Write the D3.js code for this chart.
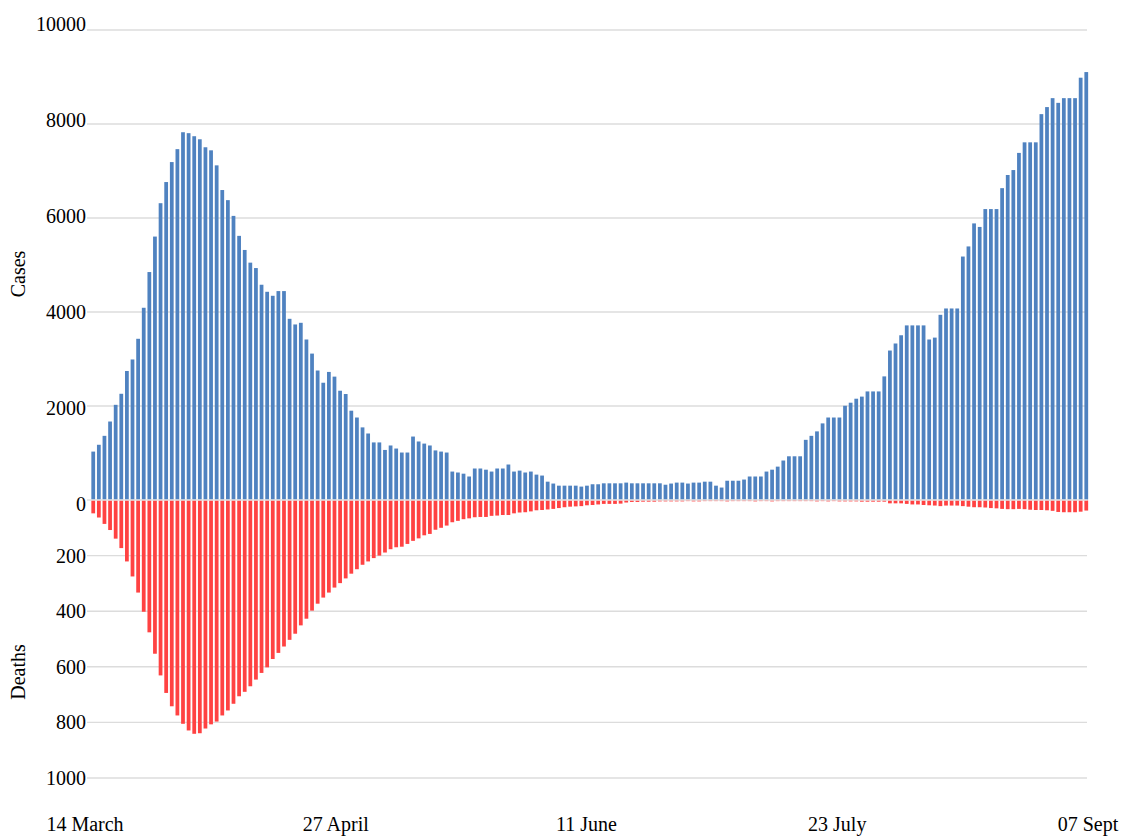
<!DOCTYPE html>
<html>
<head>
<meta charset="utf-8">
<script src="https://cdn.jsdelivr.net/npm/d3@7"></script>
<style>
  body { margin: 0; background: #fff; }
</style>
</head>
<body>
<svg id="chart" width="1126" height="837"></svg>
<script>
// daily values, 14 March -> 07 Sept
var cases = [
  1030, 1175, 1365, 1670, 2025, 2260, 2745, 2990, 3430, 4090,
  4850, 5605, 6315, 6765, 7190, 7465, 7825, 7805, 7740, 7675,
  7505, 7440, 7120, 6595, 6380, 6045, 5620, 5320, 5050, 4935,
  4580, 4430, 4345, 4445, 4445, 3855, 3735, 3770, 3415, 3115,
  2755, 2495, 2725, 2625, 2325, 2255, 1900, 1755, 1545, 1415,
  1225, 1225, 1065, 1160, 1095, 1010, 1010, 1350, 1245, 1200,
  1160, 1055, 1030, 1010, 605, 585, 560, 500, 670, 670,
  645, 605, 670, 670, 755, 605, 625, 585, 605, 540,
  520, 390, 350, 305, 305, 305, 305, 285, 305, 335,
  335, 355, 355, 355, 355, 370, 355, 355, 355, 355,
  355, 355, 325, 350, 370, 370, 350, 370, 370, 390,
  390, 305, 265, 410, 410, 410, 435, 500, 500, 500,
  605, 645, 710, 840, 930, 930, 930, 1280, 1365, 1460,
  1630, 1755, 1755, 1755, 2005, 2070, 2155, 2200, 2310, 2310,
  2310, 2630, 3180, 3330, 3505, 3715, 3715, 3715, 3715, 3415,
  3455, 3940, 4075, 4075, 4075, 5180, 5395, 5885, 5810, 6190,
  6190, 6190, 6635, 6915, 7020, 7385, 7610, 7610, 7610, 8210,
  8360, 8550, 8450, 8550, 8550, 8550, 8985, 9105
];

var deaths = [
  48, 63, 86, 108, 139, 173, 221, 275, 333, 402,
  476, 553, 631, 694, 742, 775, 805, 829, 841, 839,
  822, 807, 797, 775, 757, 733, 706, 690, 670, 646,
  622, 602, 572, 550, 527, 503, 481, 451, 427, 398,
  373, 351, 333, 315, 299, 282, 265, 249, 233, 221,
  209, 200, 189, 177, 170, 168, 158, 147, 138, 127,
  122, 107, 100, 92, 80, 75, 69, 66, 62, 61,
  61, 57, 56, 54, 54, 48, 45, 44, 41, 37,
  36, 34, 32, 29, 26, 24, 23, 22, 19, 18,
  16, 14, 14, 14, 13, 9, 7, 7, 6, 6,
  6, 5, 5, 5, 5, 5, 4, 5, 5, 4,
  4, 4, 4, 5, 4, 4, 4, 4, 5, 4,
  4, 5, 4, 4, 4, 4, 4, 4, 4, 5,
  4, 5, 4, 5, 5, 5, 5, 6, 6, 6,
  6, 6, 12, 12, 12, 14, 16, 16, 18, 19,
  20, 22, 20, 20, 20, 22, 24, 26, 26, 27,
  29, 30, 32, 33, 33, 32, 33, 35, 36, 36,
  37, 39, 43, 44, 44, 44, 42, 38
];

var dateLabels = ["14 March", "27 April", "11 June", "23 July", "07 Sept"];
var caseTicks = [0, 2000, 4000, 6000, 8000, 10000];
var deathTicks = [200, 400, 600, 800, 1000];

var FONT = "'Liberation Serif', 'DejaVu Serif', serif";

var svg = d3.select("#chart");

// one category per day
var days = d3.timeDay.range(new Date(2020, 2, 14), new Date(2020, 8, 8));

var x = d3.scaleBand()
  .domain(days)
  .range([89.5, 1090])
  .padding(0.33);

var yCases = d3.scaleLinear().domain([0, 10000]).range([500, 30]);
var yDeaths = d3.scaleLinear().domain([0, 1000]).range([500, 778]);
// the tick text sits a little off the grid on the cases side
var yCaseLabel = d3.scaleLinear().domain([0, 10000]).range([504, 23.5]);
var xLabel = d3.scaleLinear().domain([0, dateLabels.length - 1]).range([85, 1088]);

function label(sel) {
  sel.attr("font-family", FONT)
    .attr("font-size", 20)
    .attr("fill", "#000");
}

// gridlines
var grid = svg.append("g");
grid.selectAll(".gc")
  .data(caseTicks)
  .enter().append("line")
  .attr("x1", 87).attr("x2", 1087)
  .attr("y1", d => yCases(d)).attr("y2", d => yCases(d))
  .attr("stroke", "#dcdcdc").attr("stroke-width", 1.4);
grid.selectAll(".gd")
  .data(deathTicks)
  .enter().append("line")
  .attr("x1", 87).attr("x2", 1087)
  .attr("y1", d => yDeaths(d)).attr("y2", d => yDeaths(d))
  .attr("stroke", "#dcdcdc").attr("stroke-width", 1.4);

// bars
svg.append("g")
  .selectAll("rect")
  .data(days)
  .enter().append("rect")
  .attr("x", d => x(d))
  .attr("width", x.bandwidth())
  .attr("y", (d, i) => yCases(cases[i]))
  .attr("height", (d, i) => yCases(0) - yCases(cases[i]) - 0.5)
  .attr("fill", "#4f82c0");

svg.append("g")
  .selectAll("rect")
  .data(days)
  .enter().append("rect")
  .attr("x", d => x(d))
  .attr("width", x.bandwidth())
  .attr("y", yDeaths(0) + 0.5)
  .attr("height", (d, i) => yDeaths(deaths[i]) - yDeaths(0) - 0.5)
  .attr("fill", "#ff4242");

// zero line over the bars
svg.append("line")
  .attr("x1", 87).attr("x2", 1087)
  .attr("y1", yCases(0)).attr("y2", yCases(0))
  .attr("stroke", "#e8e8e8").attr("stroke-width", 1);

// tick labels
svg.append("g")
  .selectAll("text")
  .data(caseTicks)
  .enter().append("text")
  .attr("x", 86)
  .attr("y", d => yCaseLabel(d))
  .attr("dy", "0.35em")
  .attr("text-anchor", "end")
  .call(label)
  .text(d => d);

svg.append("g")
  .selectAll("text")
  .data(deathTicks)
  .enter().append("text")
  .attr("x", 86)
  .attr("y", d => yDeaths(d))
  .attr("dy", "0.35em")
  .attr("text-anchor", "end")
  .call(label)
  .text(d => d);

svg.append("g")
  .selectAll("text")
  .data(dateLabels)
  .enter().append("text")
  .attr("x", (d, i) => xLabel(i))
  .attr("y", 831)
  .attr("text-anchor", "middle")
  .call(label)
  .text(d => d);

// axis titles
svg.append("text")
  .attr("transform", "translate(25,274) rotate(-90)")
  .attr("text-anchor", "middle")
  .call(label)
  .text("Cases");
svg.append("text")
  .attr("transform", "translate(25,672) rotate(-90)")
  .attr("text-anchor", "middle")
  .call(label)
  .text("Deaths");
</script>
</body>
</html>
